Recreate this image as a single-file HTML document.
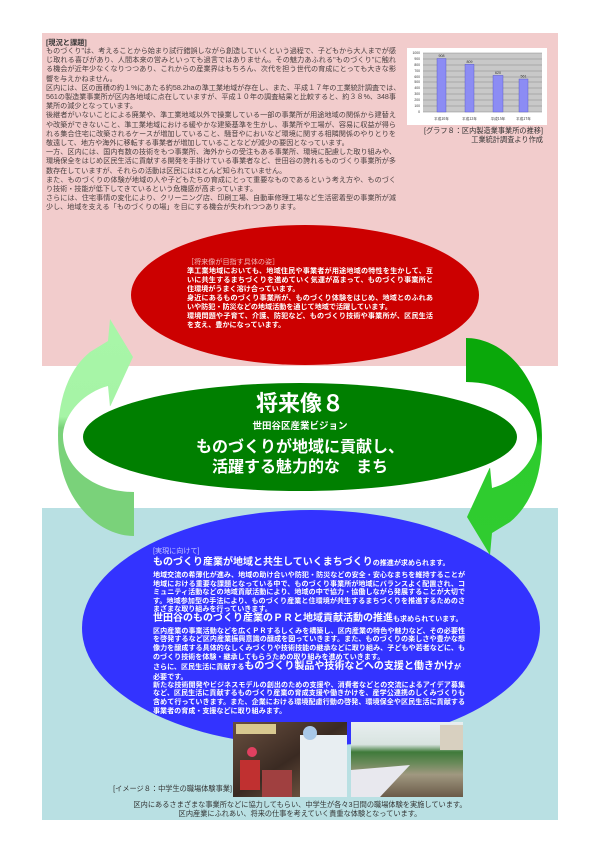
<!DOCTYPE html>
<html><head><meta charset="utf-8">
<style>
*{margin:0;padding:0;box-sizing:border-box}
body{width:600px;height:850px;background:#fff;position:relative;overflow:hidden;font-family:"Liberation Sans","Noto Sans CJK JP",sans-serif}
svg{position:absolute;left:0;top:0}
.t{position:absolute;white-space:nowrap;line-height:1}
.j{text-align:justify;text-align-last:justify}
.top{left:46px;font-size:7.1px;color:#4a4040;width:350px}
.rd{left:187px;font-size:7.1px;color:#fff;font-weight:bold;width:246px}
.bl{left:153px;font-size:7.05px;color:#fff;font-weight:bold;width:312px}
.hd{left:153px;font-size:10px;color:#fff;font-weight:bold}
.s{font-size:7.05px}
</style></head><body>
<svg width="600" height="850" viewBox="0 0 600 850">
<defs>
<linearGradient id="gr" x1="0" y1="0" x2="0" y2="1">
<stop offset="0" stop-color="#0aa80a"/><stop offset="0.45" stop-color="#0aa80a"/><stop offset="0.5" stop-color="#2ecc2e"/><stop offset="1" stop-color="#30cc30"/></linearGradient>
<linearGradient id="gl" x1="0" y1="0" x2="0" y2="1">
<stop offset="0" stop-color="#7ad27a"/><stop offset="0.5" stop-color="#7ad27a"/><stop offset="0.55" stop-color="#a6f4a6"/><stop offset="1" stop-color="#a8f6a8"/></linearGradient>
<linearGradient id="p1" x1="0" y1="0" x2="1" y2="1"><stop offset="0" stop-color="#6a5040"/><stop offset="0.5" stop-color="#3a2a22"/><stop offset="1" stop-color="#8a6a50"/></linearGradient>
<linearGradient id="p2" x1="0" y1="0" x2="0" y2="1"><stop offset="0" stop-color="#e8eef0"/><stop offset="0.3" stop-color="#d8e4e0"/><stop offset="0.4" stop-color="#3f7a3a"/><stop offset="0.55" stop-color="#6a8a5a"/><stop offset="0.7" stop-color="#a09880"/><stop offset="1" stop-color="#6a5a48"/></linearGradient>
</defs>
<rect x="42" y="33" width="516" height="333" fill="#f2cccc"/>
<rect x="42" y="508" width="516" height="312" fill="#b9e0e3"/>
<rect x="407" y="48" width="140" height="77" fill="#fff"/>
<rect x="423" y="53" width="119" height="59" fill="#c8c8c8"/>
<g stroke="#888" stroke-width="0.5">
<line x1="423" y1="53" x2="542" y2="53"/><line x1="423" y1="59" x2="542" y2="59"/><line x1="423" y1="65" x2="542" y2="65"/><line x1="423" y1="71" x2="542" y2="71"/><line x1="423" y1="77" x2="542" y2="77"/><line x1="423" y1="82" x2="542" y2="82"/><line x1="423" y1="88" x2="542" y2="88"/><line x1="423" y1="94" x2="542" y2="94"/><line x1="423" y1="100" x2="542" y2="100"/><line x1="423" y1="106" x2="542" y2="106"/><line x1="423" y1="112" x2="542" y2="112"/></g>
<g fill="#8c8cf4" stroke="#5050c0" stroke-width="0.4">
<rect x="437" y="58.5" width="9" height="53.5"/><rect x="465" y="64.3" width="9" height="47.7"/><rect x="493" y="75.4" width="10" height="36.6"/><rect x="519" y="79" width="9" height="33"/></g>
<g font-size="3.6" fill="#333" font-family="Liberation Sans,sans-serif" text-anchor="middle">
<text x="441.5" y="57">908</text><text x="469.5" y="63">809</text><text x="498" y="74">620</text><text x="523.5" y="77.5">561</text>
<text x="441.5" y="120" font-family="Noto Sans CJK JP,sans-serif">平成10年</text><text x="469.5" y="120" font-family="Noto Sans CJK JP,sans-serif">平成12年</text><text x="498" y="120" font-family="Noto Sans CJK JP,sans-serif">平成15年</text><text x="523.5" y="120" font-family="Noto Sans CJK JP,sans-serif">平成17年</text>
</g>
<g font-size="3.4" fill="#333" font-family="Liberation Sans,sans-serif" text-anchor="end">
<text x="420" y="54">1000</text><text x="420" y="60">900</text><text x="420" y="66">800</text><text x="420" y="72">700</text><text x="420" y="78">600</text><text x="420" y="83">500</text><text x="420" y="89">400</text><text x="420" y="95">300</text><text x="420" y="101">200</text><text x="420" y="107">100</text><text x="420" y="113">0</text></g>
<ellipse cx="305" cy="295" rx="174" ry="70" fill="#cc0000"/>
<ellipse cx="311" cy="628" rx="229" ry="118" fill="#3333ff"/>
<path d="M466,338 C500,338 535,370 541,420 C545,460 537,500 510,522 L492,533 L490,555 L467,517 L490,467 L492,488 C515,482 535,462 537,440 C538,410 510,382 466,382 Z" fill="url(#gr)"/>
<path transform="rotate(180 300 437)" d="M466,338 C500,338 535,370 541,420 C545,460 537,500 510,522 L492,533 L490,555 L467,517 L490,467 L492,488 C515,482 535,462 537,440 C538,410 510,382 466,382 Z" fill="url(#gl)"/>
<ellipse cx="300" cy="437" rx="217" ry="54" fill="#007f00" stroke="#fff" stroke-width="9"/>
<ellipse cx="300" cy="437" rx="217" ry="54" fill="#007f00"/>
<rect x="233" y="722" width="114" height="75" fill="url(#p1)"/>
<rect x="236" y="724" width="40" height="10" fill="#d8c890"/>
<rect x="300" y="735" width="47" height="62" fill="#e8eef2"/>
<circle cx="310" cy="733" r="7" fill="#a8c8e8"/>
<rect x="240" y="760" width="20" height="30" fill="#c03030"/>
<circle cx="252" cy="752" r="5" fill="#e04060"/>
<rect x="262" y="770" width="30" height="27" fill="#a04040"/>
<rect x="351" y="722" width="112" height="75" fill="url(#p2)"/>
<rect x="440" y="725" width="23" height="25" fill="#d8d0c0"/>
<path d="M351,797 L351,770 L410,765 L380,797 Z" fill="#e8e8ee"/>
</svg>

<div class="t" style="left:46px;top:39px;font-size:7.2px;font-weight:bold;color:#333">[現況と課題]</div>
<div class="t top j" style="top:48px">ものづくり"は、考えることから始まり試行錯誤しながら創造していくという過程で、子どもから大人までが感</div>
<div class="t top j" style="top:57.2px">じ取れる喜びがあり、人間本来の営みといっても過言ではありません。その魅力あふれる"ものづくり"に触れ</div>
<div class="t top j" style="top:66.4px">る機会が近年少なくなりつつあり、これからの産業界はもちろん、次代を担う世代の育成にとっても大きな影</div>
<div class="t top" style="top:75.6px">響を与えかねません。</div>
<div class="t top j" style="top:84.8px">区内には、区の面積の約１%にあたる約58.2haの準工業地域が存在し、また、平成１７年の工業統計調査では、</div>
<div class="t top j" style="top:94px">561の製造業事業所が区内各地域に点在していますが、平成１０年の調査結果と比較すると、約３８%、348事</div>
<div class="t top" style="top:103.2px">業所の減少となっています。</div>
<div class="t top j" style="top:112.4px">後継者がいないことによる廃業や、準工業地域以外で操業している一部の事業所が用途地域の関係から建替え</div>
<div class="t top j" style="top:121.6px">や改築ができないこと、準工業地域における緩やかな建築基準を生かし、事業所や工場が、容易に収益が得ら</div>
<div class="t top j" style="top:130.8px">れる集合住宅に改築されるケースが増加していること、騒音やにおいなど環境に関する相隣関係のやりとりを</div>
<div class="t top" style="top:140px">敬遠して、地方や海外に移転する事業者が増加していることなどが減少の要因となっています。</div>
<div class="t top j" style="top:149.2px">一方、区内には、国内有数の技術をもつ事業所、海外からの受注もある事業所、環境に配慮した取り組みや、</div>
<div class="t top j" style="top:158.4px">環境保全をはじめ区民生活に貢献する開発を手掛けている事業者など、世田谷の誇れるものづくり事業所が多</div>
<div class="t top" style="top:167.6px">数存在していますが、それらの活動は区民にはほとんど知られていません。</div>
<div class="t top j" style="top:176.8px">また、ものづくりの体験が地域の人や子どもたちの育成にとって重要なものであるという考え方や、ものづく</div>
<div class="t top" style="top:186px">り技術・技能が低下してきているという危機感が高まっています。</div>
<div class="t top j" style="top:195.2px">さらには、住宅事情の変化により、クリーニング店、印刷工場、自動車修理工場など生活密着型の事業所が減</div>
<div class="t top" style="top:204.4px">少し、地域を支える「ものづくりの場」を目にする機会が失われつつあります。</div>

<div class="t" style="left:420px;top:127px;font-size:7.2px;color:#333;width:123px;text-align:right">[グラフ８：区内製造業事業所の推移]</div>
<div class="t" style="left:420px;top:135.5px;font-size:7.2px;color:#333;width:123px;text-align:right">工業統計調査より作成</div>

<div class="t" style="left:187px;top:259px;font-size:7.1px;color:#f4b8b8">［将来像が目指す具体の姿］</div>
<div class="t rd j" style="top:268px">準工業地域においても、地域住民や事業者が用途地域の特性を生かして、互</div>
<div class="t rd j" style="top:277px">いに共生するまちづくりを進めていく気運が高まって、ものづくり事業所と</div>
<div class="t rd" style="top:286px">住環境がうまく溶け合っています。</div>
<div class="t rd j" style="top:295px">身近にあるものづくり事業所が、ものづくり体験をはじめ、地域とのふれあ</div>
<div class="t rd" style="top:304px">いや防犯・防災などの地域活動を通じて地域で活躍しています。</div>
<div class="t rd j" style="top:313px">環境問題や子育て、介護、防犯など、ものづくり技術や事業所が、区民生活</div>
<div class="t rd" style="top:322px">を支え、豊かになっています。</div>

<div class="t" style="left:200px;width:200px;text-align:center;top:393px;font-size:22px;font-weight:bold;color:#fff">将来像８</div>
<div class="t" style="left:200px;width:200px;text-align:center;top:422px;font-size:9.5px;font-weight:bold;color:#fff">世田谷区産業ビジョン</div>
<div class="t" style="left:150px;width:300px;text-align:center;top:440px;font-size:16px;font-weight:bold;color:#fff">ものづくりが地域に貢献し、</div>
<div class="t" style="left:150px;width:300px;text-align:center;top:460px;font-size:16px;font-weight:bold;color:#fff">活躍する魅力的な　まち</div>

<div class="t" style="left:153px;top:548px;font-size:7.1px;color:#c8c8ff">[実現に向けて]</div>
<div class="t hd" style="top:558px">ものづくり産業が地域と共生していくまちづくり<span class="s">の推進が求められます。</span></div>
<div class="t bl j" style="top:571.5px">地域交流の希薄化が進み、地域の助け合いや防犯・防災などの安全・安心なまちを維持することが</div>
<div class="t bl j" style="top:580.5px">地域における重要な課題となっている中で、ものづくり事業所が地域にバランスよく配置され、コ</div>
<div class="t bl j" style="top:588.8px">ミュニティ活動などの地域貢献活動により、地域の中で協力・協働しながら発展することが大切で</div>
<div class="t bl j" style="top:597.5px">す。地域参加型の手法により、ものづくり産業と住環境が共生するまちづくりを推進するためのさ</div>
<div class="t bl" style="top:605.8px">まざまな取り組みを行っていきます。</div>
<div class="t hd" style="top:614px">世田谷のものづくり産業のＰＲと地域貢献活動の推進<span class="s">も求められています。</span></div>
<div class="t bl j" style="top:627.5px">区内産業の事業活動などを広くＰＲするしくみを構築し、区内産業の特色や魅力など、その必要性</div>
<div class="t bl j" style="top:636.3px">を啓発するなど区内産業振興意識の醸成を図っていきます。また、ものづくりの楽しさや豊かな想</div>
<div class="t bl j" style="top:644.8px">像力を醸成する具体的なしくみづくりや技術技能の継承などに取り組み、子どもや若者などに、も</div>
<div class="t bl" style="top:653.5px">のづくり技術を体験・継承してもらうための取り組みを進めていきます。</div>
<div class="t hd" style="top:662px"><span class="s">さらに、区民生活に貢献する</span>ものづくり製品や技術などへの支援と働きかけ<span class="s">が</span></div>
<div class="t bl" style="top:673.5px">必要です。</div>
<div class="t bl j" style="top:681.8px">新たな技術開発やビジネスモデルの創出のための支援や、消費者などとの交流によるアイデア募集</div>
<div class="t bl j" style="top:690.3px">など、区民生活に貢献するものづくり産業の育成支援や働きかけを、産学公連携のしくみづくりも</div>
<div class="t bl j" style="top:698.8px">含めて行っていきます。また、企業における環境配慮行動の啓発、環境保全や区民生活に貢献する</div>
<div class="t bl" style="top:707.5px">事業者の育成・支援などに取り組みます。</div>

<div class="t" style="left:100px;width:132px;text-align:right;top:785px;font-size:7.2px;color:#333">[イメージ８：中学生の職場体験事業]</div>
<div class="t" style="left:100px;width:400px;text-align:center;top:801px;font-size:7.2px;color:#333">区内にあるさまざまな事業所などに協力してもらい、中学生が各々3日間の職場体験を実施しています。</div>
<div class="t" style="left:100px;width:400px;text-align:center;top:810px;font-size:7.2px;color:#333">区内産業にふれあい、将来の仕事を考えていく貴重な体験となっています。</div>
</body></html>
